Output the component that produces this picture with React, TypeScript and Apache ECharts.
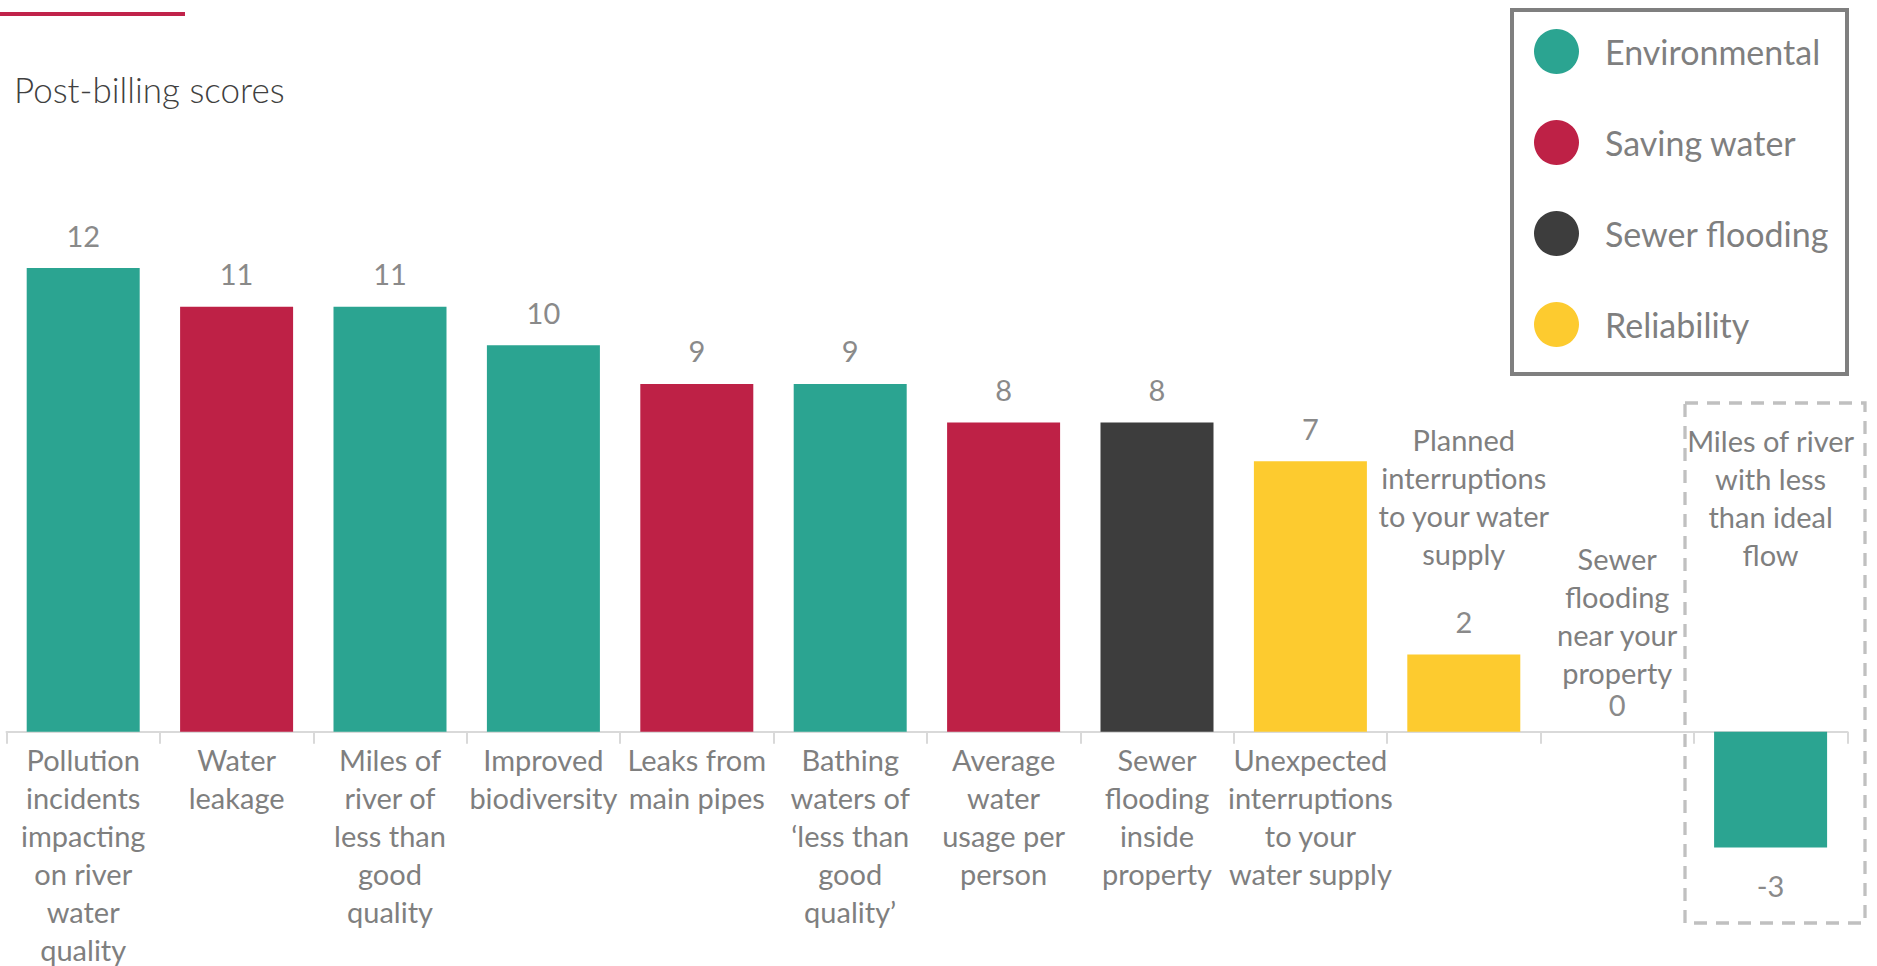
import React, { useEffect, useRef } from "react";
import * as echarts from "echarts";

const categories = [
  "Pollution\nincidents\nimpacting\non river\nwater\nquality",
  "Water\nleakage",
  "Miles of\nriver of\nless than\ngood\nquality",
  "Improved\nbiodiversity",
  "Leaks from\nmain pipes",
  "Bathing\nwaters of\n‘less than\ngood\nquality’",
  "Average\nwater\nusage per\nperson",
  "Sewer\nflooding\ninside\nproperty",
  "Unexpected\ninterruptions\nto your\nwater supply",
  "Planned\ninterruptions\nto your water\nsupply",
  "Sewer\nflooding\nnear your\nproperty",
  "Miles of river\nwith less\nthan ideal\nflow",
];
const values = [12, 11, 11, 10, 9, 9, 8, 8, 7, 2, 0, -3];
const groups = [
  "Environmental",
  "Saving water",
  "Environmental",
  "Environmental",
  "Saving water",
  "Environmental",
  "Saving water",
  "Sewer flooding",
  "Reliability",
  "Reliability",
  "Sewer flooding",
  "Environmental",
];
// where each category name is shown: under the axis, above its bar, or at the top of the dashed box
const namePlacement = [
  "below", "below", "below", "below", "below", "below",
  "below", "below", "below", "above", "above", "box",
];
const groupNames = ["Environmental", "Saving water", "Sewer flooding", "Reliability"];
const groupColors = ["#2BA491", "#BE2146", "#3D3D3D", "#FDCB2F"];
const titleText = "Post-billing scores";

const FONT = "Lato, 'Open Sans', sans-serif";
const LABEL_GREY = "#7f7f7f";
const VALUE_GREY = "#8a8a8a";

export default function App() {
  const ref = useRef<HTMLDivElement>(null);

  useEffect(() => {
    if (!ref.current) return;
    const chart = echarts.init(ref.current, undefined, { renderer: "svg" });

    const series = groupNames.map((g, gi) => ({
      name: g,
      type: "bar",
      stack: "all",
      barWidth: 113,
      clip: false,
      itemStyle: { color: groupColors[gi] },
      label: {
        show: true,
        position: "top",
        distance: 14,
        color: VALUE_GREY,
        fontFamily: FONT,
        fontSize: 29,
        lineHeight: 38,
        formatter: (p: any) => {
          const i = p.dataIndex;
          const v = values[i];
          if (namePlacement[i] === "above") {
            const lines = categories[i]
              .split("\n")
              .map((l) => `{n|${l}}`)
              .join("\n");
            return v === 0 ? `${lines}\n{z|${v}}` : `${lines}\n{s| }\n{v|${v}}`;
          }
          return `{v|${v}}`;
        },
        rich: {
          n: { color: LABEL_GREY, fontFamily: FONT, fontSize: 29, lineHeight: 38 },
          v: { color: VALUE_GREY, fontFamily: FONT, fontSize: 29, lineHeight: 38 },
          z: { color: VALUE_GREY, fontFamily: FONT, fontSize: 29, lineHeight: 26 },
          s: { fontSize: 10, lineHeight: 30 },
        },
      },
      data: values.map((v, i) =>
        groups[i] === g
          ? v < 0
            ? { value: v, label: { position: "bottom", distance: 19 } }
            : v
          : "-"
      ),
    }));

    chart.setOption({
      animation: false,
      title: {
        text: titleText,
        left: 14,
        top: 71,
        padding: 0,
        textStyle: {
          color: "#404040",
          fontFamily: FONT,
          fontWeight: 300,
          fontSize: 35,
          lineHeight: 36,
        },
      },
      legend: {
        orient: "vertical",
        left: 1534,
        top: 29,
        padding: 0,
        itemWidth: 45,
        itemHeight: 45,
        itemGap: 46,
        icon: "circle",
        selectedMode: false,
        data: groupNames,
        textStyle: {
          color: LABEL_GREY,
          fontFamily: FONT,
          fontSize: 34,
          lineHeight: 45,
          padding: [0, 0, 0, 21],
        },
      },
      grid: {
        left: 6.5,
        right: 29.7,
        top: 36.2,
        bottom: 234.3,
        containLabel: false,
        outerBoundsMode: "none",
      },
      xAxis: {
        type: "category",
        data: categories,
        axisLine: { lineStyle: { color: "#d9d9d9", width: 2 } },
        axisTick: { show: true, length: 12, lineStyle: { color: "#d9d9d9", width: 2 } },
        axisLabel: {
          interval: 0,
          margin: 9,
          hideOverlap: false,
          color: LABEL_GREY,
          fontFamily: FONT,
          fontSize: 29,
          lineHeight: 38,
          formatter: (val: string, idx: number) =>
            namePlacement[idx] === "below" ? val : "",
        },
      },
      yAxis: {
        type: "value",
        min: 0,
        max: 18,
        show: false,
        splitLine: { show: false },
      },
      series,
    });

    const boxIdx = namePlacement.indexOf("box");
    const boxX = chart.convertToPixel({ xAxisIndex: 0 }, categories[boxIdx]) as number;

    chart.setOption({
      graphic: [
        {
          type: "rect",
          shape: { x: 0, y: 12, width: 185, height: 4 },
          style: { fill: "#C0234A" },
        },
        {
          type: "rect",
          shape: { x: 1512, y: 10, width: 335, height: 364 },
          style: { fill: "none", stroke: "#7f7f7f", lineWidth: 4 },
          z: -1,
        },
        {
          type: "rect",
          shape: { x: 1685, y: 403, width: 180, height: 520 },
          style: { fill: "none", stroke: "#c0c0c0", lineWidth: 3.3, lineDash: [13, 9] },
          z: -1,
        },
        {
          type: "text",
          x: boxX,
          y: 421,
          style: {
            text: categories[boxIdx],
            fill: LABEL_GREY,
            fontFamily: FONT,
            fontSize: 29,
            lineHeight: 38,
            align: "center",
            verticalAlign: "top",
          },
        },
      ],
    });

    return () => chart.dispose();
  }, []);

  return (
    <div
      ref={ref}
      style={{ position: "fixed", left: 0, top: 0, width: 1877, height: 966, background: "#fff" }}
    />
  );
}
